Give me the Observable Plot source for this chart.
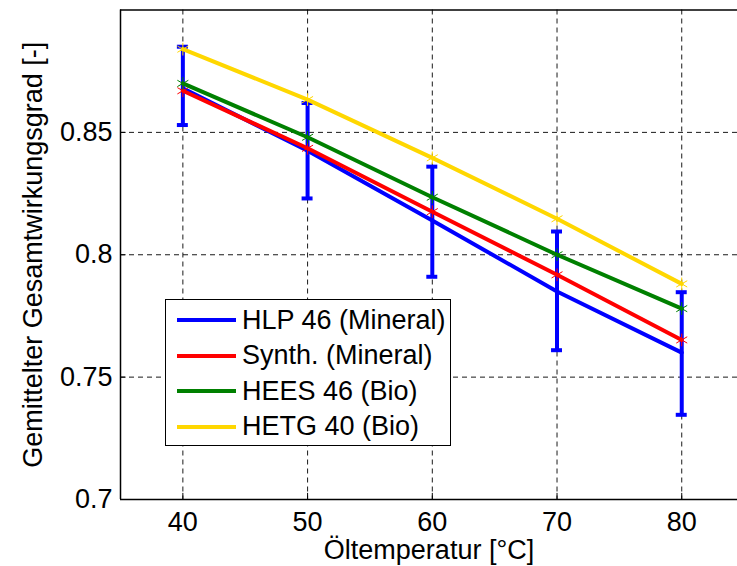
<!DOCTYPE html>
<html>
<head>
<meta charset="utf-8">
<script src="https://cdn.jsdelivr.net/npm/d3@7"></script>
<script src="https://cdn.jsdelivr.net/npm/@observablehq/plot@0.6"></script>
<style>
  body { margin: 0; background: #fff; }
  #wrap { position: relative; width: 737px; height: 566px; font-family: "Liberation Sans", Arial, sans-serif; }
  #legend { position: absolute; left: 165px; top: 299px; width: 286px; height: 147px; border: 1.5px solid #000; background: #fff; box-sizing: border-box; }
  .row { position: absolute; left: 0; height: 30px; display: flex; align-items: center; }
  .row svg { margin-left: 11px; }
  .row span { margin-left: 6px; font-size: 27px; color: #000; white-space: nowrap; }
</style>
</head>
<body>
<div id="wrap"></div>
<script>
const temps = [40, 50, 60, 70, 80];
const seriesNames = ["HLP 46 (Mineral)", "Synth. (Mineral)", "HEES 46 (Bio)", "HETG 40 (Bio)"];
const seriesColors = ["#0000ff", "#ff0000", "#008000", "#ffd700"];
const hlp = [0.868, 0.8425, 0.814, 0.785, 0.760];
const hlpLo = [0.853, 0.823, 0.791, 0.761, 0.7346];
const hlpHi = [0.885, 0.862, 0.836, 0.8095, 0.7847];
const synth = [0.867, 0.8435, 0.8176, 0.7918, 0.7652];
const hees = [0.870, 0.848, 0.8235, 0.800, 0.778];
const hetg = [0.884, 0.8634, 0.8396, 0.8147, 0.7881];
const xTicks = [40, 50, 60, 70, 80];
const yTicks = [0.7, 0.75, 0.8, 0.85];
const xDomain = [35, 85];
const yDomain = [0.7, 0.9];
const xLabel = "Öltemperatur [°C]";
const yLabel = "Gemittelter Gesamtwirkungsgrad [-]";

const allSeries = [hlp, synth, hees, hetg];
const rows = [];
allSeries.forEach((vals, si) => temps.forEach((t, i) => rows.push({series: seriesNames[si], color: seriesColors[si], si, x: t, y: vals[i]})));
const err = temps.map((t, i) => ({x: t, lo: hlpLo[i], hi: hlpHi[i]}));
const capHalf = 0.44;

const marks = [
  Plot.gridX(xTicks, {stroke: "#000", strokeOpacity: 0.9, strokeDasharray: "5,4", strokeWidth: 1}),
  Plot.gridY(yTicks, {stroke: "#000", strokeOpacity: 0.9, strokeDasharray: "5,4", strokeWidth: 1}),
  Plot.ruleX([xDomain[0]], {stroke: "#000", strokeWidth: 1.5}),
  Plot.ruleY(yDomain, {stroke: "#000", strokeWidth: 1.5}),
  Plot.ruleY(yTicks, {x1: xDomain[0], x2: xDomain[0] + 0.45, stroke: "#000"}),
  Plot.ruleX(xTicks, {y1: yDomain[0], y2: yDomain[0] + 0.0025, stroke: "#000"}),
  Plot.axisX(xTicks, {tickSize: 0, tickPadding: 12, label: null, tickFormat: d => String(d)}),
  Plot.axisY(yTicks, {tickSize: 0, tickPadding: 8, label: null, tickFormat: d => String(d)}),
];
// blue series with error bars first
marks.push(
  Plot.line(rows.filter(d => d.si === 0), {x: "x", y: "y", stroke: seriesColors[0], strokeWidth: 4}),
  Plot.ruleX(err, {x: "x", y1: "lo", y2: "hi", stroke: seriesColors[0], strokeWidth: 4}),
  Plot.ruleY(err, {y: "lo", x1: d => d.x - capHalf, x2: d => d.x + capHalf, stroke: seriesColors[0], strokeWidth: 4}),
  Plot.ruleY(err, {y: "hi", x1: d => d.x - capHalf, x2: d => d.x + capHalf, stroke: seriesColors[0], strokeWidth: 4})
);
for (let si = 1; si < 4; si++) {
  const data = rows.filter(d => d.si === si);
  marks.push(
    Plot.line(data, {x: "x", y: "y", stroke: seriesColors[si], strokeWidth: 4}),
    Plot.dot(data, {x: "x", y: "y", symbol: "asterisk", r: 6, stroke: seriesColors[si], strokeWidth: 1})
  );
}
marks.push(
  Plot.text([yLabel], {frameAnchor: "left", textAnchor: "middle", lineAnchor: "middle", rotate: -90, dx: -87, fontSize: 27, fill: "#000"}),
  Plot.text([xLabel], {frameAnchor: "bottom", textAnchor: "middle", lineAnchor: "middle", dy: 51, fontSize: 27, fill: "#000"})
);

const chart = Plot.plot({
  width: 737,
  height: 566,
  marginLeft: 120,
  marginRight: 0,
  marginTop: 9.5,
  marginBottom: 67,
  x: {domain: xDomain, range: [120, 743.6]},
  y: {domain: yDomain, range: [499, 9.5]},
  style: {fontSize: "27px", fontFamily: "'Liberation Sans', Arial, sans-serif", color: "#000", background: "#fff", overflow: "hidden"},
  marks
});
const wrap = document.getElementById("wrap");
wrap.appendChild(chart);

const legend = document.createElement("div");
legend.id = "legend";
const rowCenters = [20, 55.5, 91, 126.5];
seriesNames.forEach((name, i) => {
  const r = document.createElement("div");
  r.className = "row";
  r.style.top = (rowCenters[i] - 15) + "px";
  r.innerHTML = `<svg width="59" height="8"><line x1="0" x2="59" y1="4" y2="4" stroke="${seriesColors[i]}" stroke-width="4"/></svg><span>${name}</span>`;
  legend.appendChild(r);
});
wrap.appendChild(legend);
</script>
</body>
</html>
